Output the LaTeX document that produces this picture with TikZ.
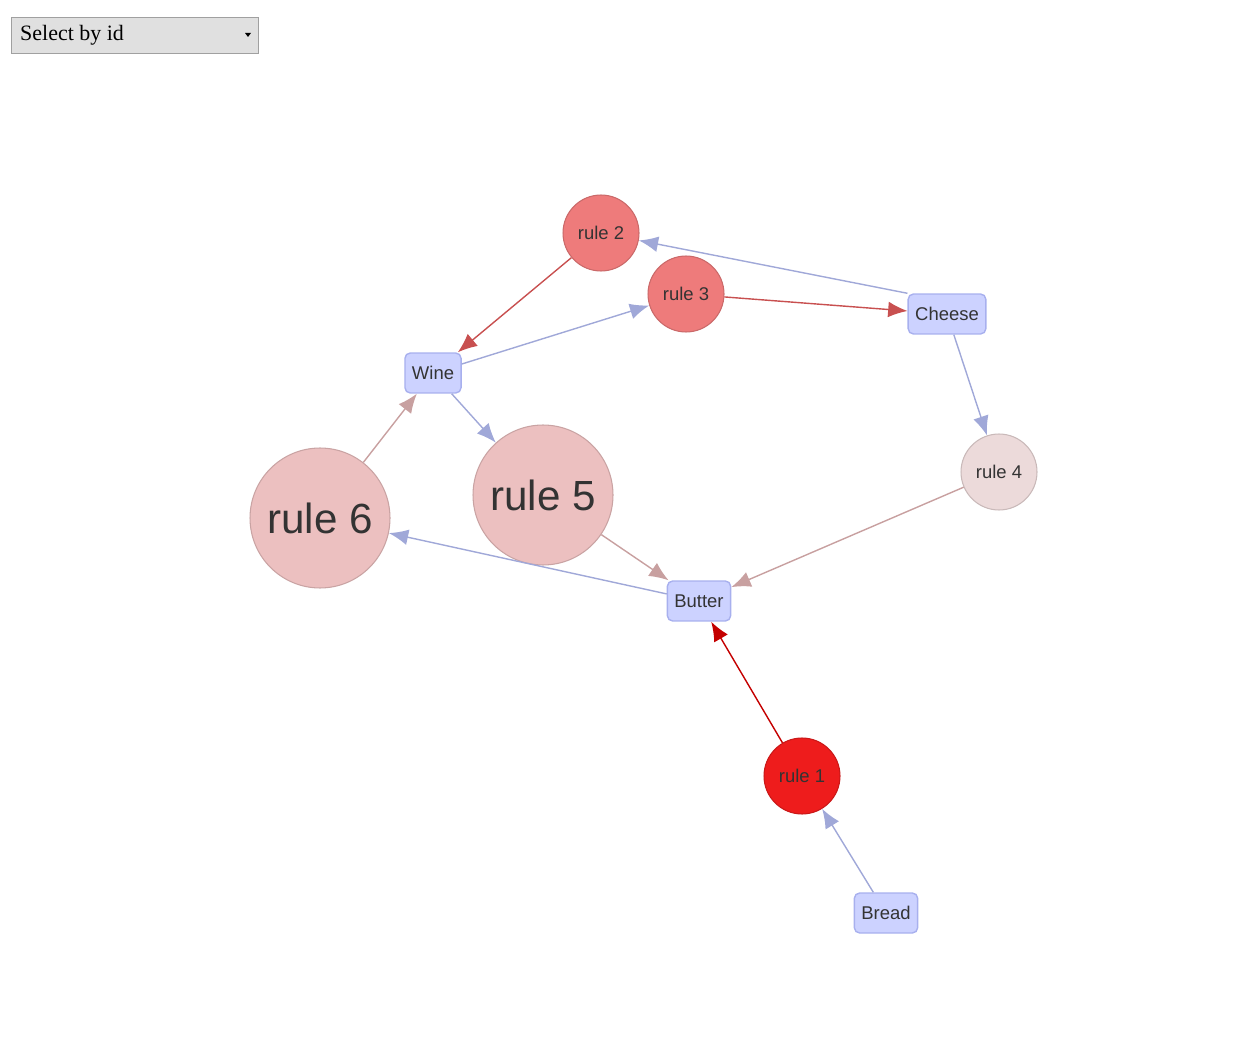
\documentclass[tikz,border=0pt]{standalone}
\usepackage{fontspec}
\setmainfont{Liberation Sans}
\newfontfamily\serifui{Liberation Serif}
\usetikzlibrary{arrows.meta}
\definecolor{itemfill}{HTML}{CCD2FF}
\definecolor{itemline}{HTML}{A8B0EE}
\definecolor{edgeblue}{HTML}{A0A8D8}
\definecolor{edgered}{HTML}{C85050}
\definecolor{edgerose}{HTML}{C8A0A0}
\definecolor{edgedark}{HTML}{C40000}
\definecolor{txt}{HTML}{333333}
\definecolor{selfill}{HTML}{E0E0E0}
\definecolor{selline}{HTML}{A0A0A0}
\definecolor{rulehot}{HTML}{EE1C1C}
\definecolor{rulewarm}{HTML}{EE7B7B}
\definecolor{rulemild}{HTML}{ECC0C0}
\definecolor{rulecool}{HTML}{ECDADA}

\begin{document}
\begin{tikzpicture}[
  x=0.02cm, y=-0.02cm,
  item/.style={draw=itemline, fill=itemfill, rounded corners=3pt, line width=0.8pt,
    minimum height=0.8cm, inner xsep=4pt, font=\fontsize{10.5}{12}\selectfont, text=txt},
  rulenode/.style={circle, draw=#1!85!black, fill=#1, line width=0.6pt, inner sep=0pt, text=txt},
  small/.style={minimum size=1.52cm, font=\fontsize{10.5}{12}\selectfont},
  big/.style={minimum size=2.8cm, font=\fontsize{24}{28}\selectfont},
  arr/.style={-{Latex[length=11pt, width=9pt]}, line width=0.8pt, draw=#1, color=#1}
]
\useasboundingbox (0,0) rectangle (1257,1050);
% selector
\node[draw=selline, fill=selfill, minimum width=4.94cm, minimum height=0.72cm,
  anchor=north west, inner sep=0pt] (select) at (11,17) {};
\node[anchor=west, font=\serifui\fontsize{12.5}{14}\selectfont] (selecttxt) at (14,35) {Select by id};
\fill (245,33) -- (251,33) -- (248,37) -- cycle;

% rules
\node[rulenode=rulewarm, small] (r2) at (601,233) {rule 2};
\node[rulenode=rulewarm, small] (r3) at (686,294) {rule 3};
\node[rulenode=rulecool, small] (r4) at (999,472) {rule 4};
\node[rulenode=rulemild, big] (r5) at (543,495) {rule 5};
\node[rulenode=rulemild, big] (r6) at (320,518) {rule 6};
\node[rulenode=rulehot, small] (r1) at (802,776) {rule 1};

% items
\node[item] (cheese) at (947,314) {Cheese};
\node[item] (wine) at (433,373) {Wine};
\node[item] (butter) at (699,601) {Butter};
\node[item] (bread) at (886,913) {Bread};

\draw[arr=edgered] (r2) -- (wine);
\draw[arr=edgeblue] (wine) -- (r3);
\draw[arr=edgered] (r3) -- (cheese);
\draw[arr=edgeblue] (cheese.north west) -- (r2);
\draw[arr=edgeblue] (cheese) -- (r4);
\draw[arr=edgerose] (r4) -- (butter);
\draw[arr=edgeblue] (wine) -- (r5);
\draw[arr=edgerose] (r5) -- (butter);
\draw[arr=edgeblue] (butter) -- (r6);
\draw[arr=edgerose] (r6) -- (wine);
\draw[arr=edgedark] (r1) -- (butter);
\draw[arr=edgeblue] (bread) -- (r1);
\end{tikzpicture}
\end{document}
